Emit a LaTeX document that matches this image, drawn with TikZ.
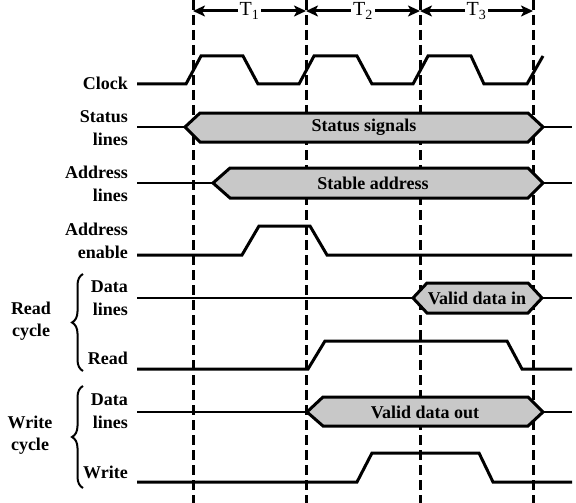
\documentclass[tikz,border=0pt]{standalone}
\usepackage{fontspec}
\setmainfont{Liberation Serif}
\usetikzlibrary{arrows.meta,decorations.pathreplacing}
\definecolor{busgray}{RGB}{200,200,200}
\tikzset{
 sig/.style={line width=3pt,line join=miter},
 lead/.style={line width=2pt},
 bus/.style={line width=3pt,fill=busgray,line join=miter},
 tick/.style={line width=3pt,dash pattern=on 10pt off 5pt},
 period/.style={line width=3pt,{Stealth[length=12pt,width=11pt,inset=3pt]}-{Stealth[length=12pt,width=11pt,inset=3pt]}},
 plbl/.style={fill=white,inner sep=2pt,font=\fontsize{20}{22}\selectfont},
 lbl/.style={font=\fontsize{18}{22.5}\selectfont\bfseries,align=right,anchor=east,inner sep=0pt},
 cyc/.style={font=\fontsize{18}{22.5}\selectfont\bfseries,align=center,inner sep=0pt},
 txt/.style={font=\fontsize{18}{22}\selectfont\bfseries,inner sep=0pt},
 brc/.style={line width=2pt,decorate,decoration={brace,amplitude=11pt}}
}
\begin{document}
\begin{tikzpicture}[x=1pt,y=-1pt]
 \useasboundingbox (0,0) rectangle (576,503);
 \node[lbl] (clk) at (128,83) {Clock};
 \node[lbl] (stat) at (128,128) {Status\\lines};
 \node[lbl] (addr) at (128,184) {Address\\lines};
 \node[lbl] (aen) at (128,241) {Address\\enable};
 \node[lbl] (rdata) at (128,298) {Data\\lines};
 \node[lbl] (rd) at (128,358) {Read};
 \node[lbl] (wdata) at (128,411) {Data\\lines};
 \node[lbl] (wr) at (128,472) {Write};
 \node[cyc] (rcyc) at (31,321) {Read\\cycle};
 \node[cyc] (wcyc) at (30,435) {Write\\cycle};
 \draw[brc] (83,371) -- (83,274);
 \draw[brc] (83,488) -- (83,386);
 \draw[tick] (193,0) -- (193,503);
 \draw[tick] (306,0) -- (306,503);
 \draw[tick] (420,0) -- (420,503);
 \draw[tick] (533,0) -- (533,503);
 \coordinate (t0) at (193,11);
 \coordinate (t1) at (306,11);
 \coordinate (t2) at (420,11);
 \coordinate (t3) at (533,11);
 \draw[period] (t0) -- (t1) node[midway,plbl] (p1) {T\textsubscript{1}};
 \draw[period] (t1) -- (t2) node[midway,plbl] (p2) {T\textsubscript{2}};
 \draw[period] (t2) -- (t3) node[midway,plbl] (p3) {T\textsubscript{3}};
 \draw[sig] (137,84) -- (186,84) -- (201,56) -- (243,56) -- (258,84) -- (299,84) -- (314,56) -- (357,56) -- (372,84) -- (413,84) -- (428,56) -- (471,56) -- (484,84) -- (527,84) -- (543,56);
 \draw[lead] (137,127) -- (185,127);
 \draw[bus] (185,127) -- (200,113) -- (528,113) -- (543,127) -- (528,142) -- (200,142) -- cycle;
 \draw[lead] (543,127) -- (572,127);
 \node[txt] (ssig) at (364,127) {Status signals};
 \draw[lead] (137,183) -- (213,183);
 \draw[bus] (213,183) -- (230,168) -- (528,168) -- (543,183) -- (528,198) -- (230,198) -- cycle;
 \draw[lead] (543,183) -- (572,183);
 \node[txt] (saddr) at (373,183) {Stable address};
 \draw[sig] (137,255) -- (242,255) -- (259,226) -- (310,226) -- (327,255) -- (572,255);
 \draw[lead] (137,298) -- (413,298);
 \draw[bus] (413,298) -- (427,283) -- (528,283) -- (542,298) -- (528,313) -- (427,313) -- cycle;
 \draw[lead] (542,298) -- (572,298);
 \node[txt] (vdin) at (477,298) {Valid data in};
 \draw[sig] (137,369) -- (308,369) -- (325,341) -- (507,341) -- (522,369) -- (572,369);
 \draw[lead] (137,412) -- (307,412);
 \draw[bus] (307,412) -- (323,397) -- (528,397) -- (543,412) -- (528,426) -- (323,426) -- cycle;
 \draw[lead] (543,412) -- (572,412);
 \node[txt] (vdout) at (425,412) {Valid data out};
 \draw[sig] (137,482) -- (357,482) -- (372,453) -- (479,453) -- (493,482) -- (572,482);
\end{tikzpicture}
\end{document}
